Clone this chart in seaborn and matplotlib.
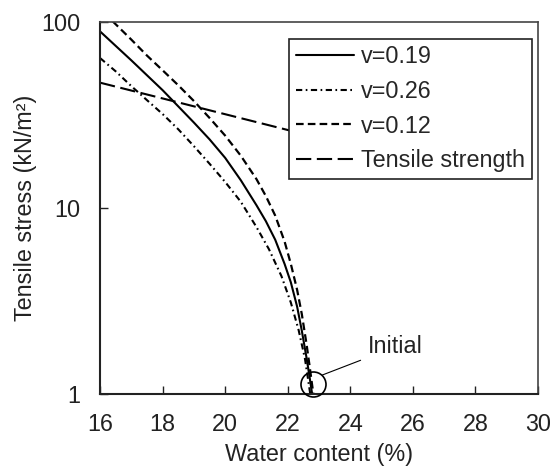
import numpy as np
import pandas as pd
import matplotlib
matplotlib.use("Agg")
import matplotlib.pyplot as plt
import seaborn as sns

# water content (%) and tensile stress (kN/m2)
w_019 = [16.0, 17.0, 18.0, 19.0, 19.5, 20.0, 20.5, 21.0, 21.3, 21.6, 21.9, 22.1, 22.3, 22.45, 22.6, 22.7, 22.78]
s_019 = [89, 62.2, 43, 28.8, 23.4, 18.6, 14.1, 10.35, 8.5, 6.75, 5.0, 3.98, 2.95, 2.19, 1.57, 1.23, 1.0]

w_026 = [16.0, 16.5, 17.0, 17.5, 18.0, 18.5, 19.0, 19.5, 20.0, 20.5, 21.0, 21.4, 21.8, 22.1, 22.35, 22.55, 22.65, 22.72]
s_026 = [64, 54.3, 45.2, 38, 32, 26.5, 21.5, 17.3, 13.8, 10.8, 7.9, 6.0, 4.3, 3.1, 2.2, 1.55, 1.2, 1.0]

w_012 = [16.4, 17.0, 17.5, 18.0, 18.5, 19.0, 19.5, 20.0, 20.5, 21.0, 21.3, 21.6, 21.9, 22.1, 22.3, 22.45, 22.6, 22.7, 22.77, 22.82]
s_012 = [101, 80.4, 66, 55, 45.7, 37.6, 30.5, 24.5, 19.1, 14.3, 11.6, 9.1, 6.6, 5.0, 3.63, 2.69, 1.86, 1.41, 1.15, 1.0]

w_ts = [16.0, 22.8]
s_ts = [47.2, 24.3]

init_w, init_s = 22.8, 1.13

sns.set_style("ticks")
plt.rcParams["font.family"] = ["Liberation Sans", "DejaVu Sans"]
plt.rcParams["lines.scale_dashes"] = False

fs = 16.8
fig = plt.figure(figsize=(5.5, 4.69), dpi=100)
ax = fig.add_axes([0.182, 0.16, 0.796, 0.793])

sns.lineplot(x=w_019, y=s_019, color="black", lw=1.5, label="v=0.19",
             estimator=None, sort=False, ax=ax)
sns.lineplot(x=w_026, y=s_026, color="black", lw=1.5, label="v=0.26",
             linestyle=(0, (4.5, 2.5, 1.2, 2.5)), estimator=None, sort=False, ax=ax)
sns.lineplot(x=w_012, y=s_012, color="black", lw=1.6, label="v=0.12",
             linestyle=(0, (5.5, 3)), estimator=None, sort=False, ax=ax)
sns.lineplot(x=w_ts, y=s_ts, color="black", lw=1.5, label="Tensile strength",
             linestyle=(0, (11, 4)), estimator=None, sort=False, ax=ax)

# initial state marker
ax.plot([init_w], [init_s], marker="o", ms=18, mfc="none", mec="black", mew=1.2,
        clip_on=False, zorder=6)
ax.annotate("Initial", xy=(23.11, 1.265), xytext=(24.56, 1.79), fontsize=fs,
            ha="left", va="center", color="#222222",
            arrowprops=dict(arrowstyle="-", lw=0.8, color="black", shrinkA=3, shrinkB=0))

ax.set_yscale("log")
ax.set_xlim(16, 30)
ax.set_ylim(1, 100)
ax.set_xticks(np.arange(16, 31, 2))
ax.set_yticks([1, 10, 100])
ax.set_yticklabels(["1", "10", "100"])
ax.minorticks_off()
ax.tick_params(axis="both", direction="in", labelsize=fs, colors="#222222", width=1.0)
ax.tick_params(axis="x", length=6, pad=14)
ax.tick_params(axis="y", length=6, pad=14)

for side in ["left", "bottom"]:
    ax.spines[side].set_linewidth(1.5)
    ax.spines[side].set_color("#222222")
for side in ["top", "right"]:
    ax.spines[side].set_linewidth(1.2)
    ax.spines[side].set_color("#444444")

ax.set_xlabel("Water content (%)", fontsize=fs, color="#222222", labelpad=5)
ax.set_ylabel("Tensile stress (kN/m²)", fontsize=fs, color="#222222", labelpad=3)

leg = ax.legend(loc="upper right", bbox_to_anchor=(0.986, 0.955), borderaxespad=0,
                fontsize=fs, handlelength=2.5, handletextpad=0.3, labelspacing=0.5,
                borderpad=0.28, fancybox=False, framealpha=1, edgecolor="#222222")
leg.get_frame().set_linewidth(1.2)

fig.savefig("out.png", dpi=100)
